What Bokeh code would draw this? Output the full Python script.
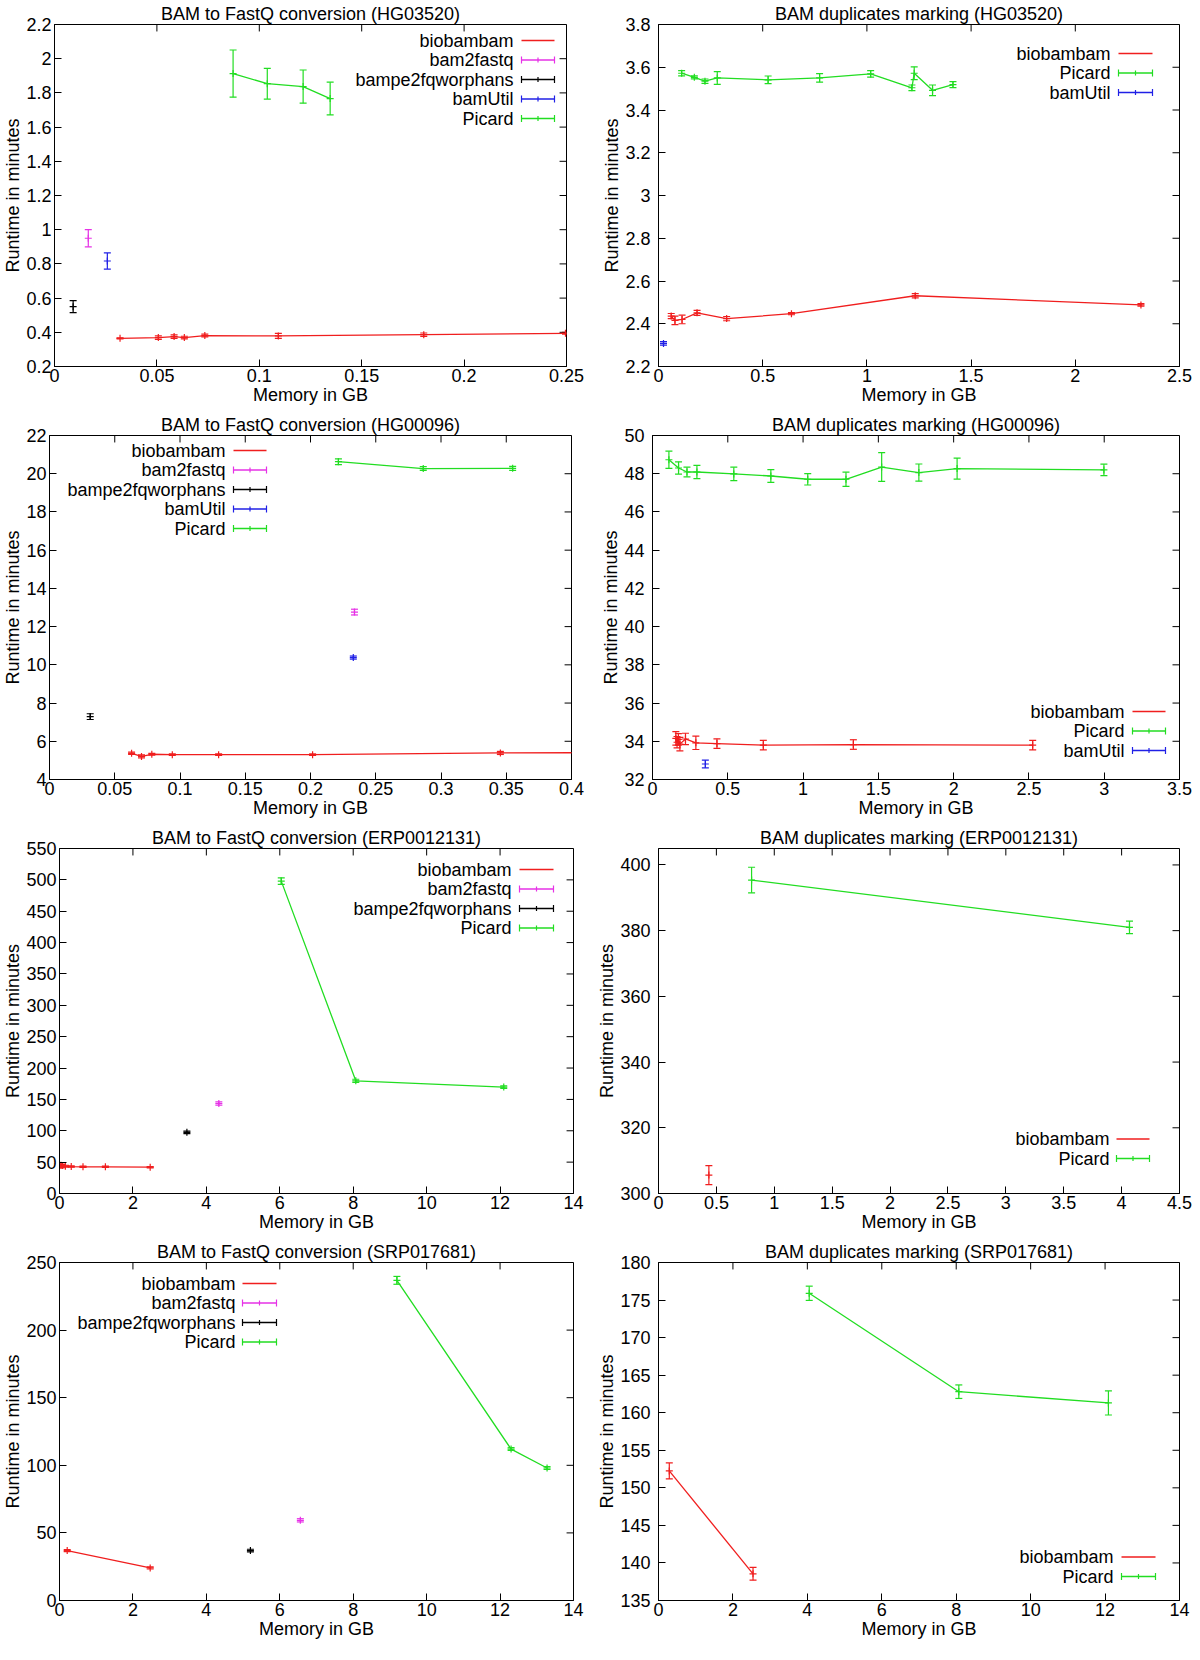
from bokeh.plotting import figure
from bokeh.models import Range1d, FixedTicker, Whisker, ColumnDataSource, TeeHead, Label, Arrow
from bokeh.layouts import column, row
from bokeh.embed import file_html
from bokeh.resources import INLINE

# ---------------- data ----------------
X_LABEL = "Memory in GB"
Y_LABEL = "Runtime in minutes"

# Panel 1: BAM to FastQ conversion (HG03520)
p1_title = "BAM to FastQ conversion (HG03520)"
p1_xticks = [0, 0.05, 0.1, 0.15, 0.2, 0.25]
p1_yticks = [0.2, 0.4, 0.6, 0.8, 1, 1.2, 1.4, 1.6, 1.8, 2, 2.2]
p1_bio_x = [0.032, 0.0507, 0.0584, 0.0634, 0.0734, 0.1093, 0.1803, 0.2495]
p1_bio_y = [0.365, 0.369, 0.375, 0.369, 0.381, 0.379, 0.386, 0.394]
p1_bio_e = [0.003, 0.01, 0.01, 0.008, 0.008, 0.015, 0.01, 0.005]
p1_b2f_x = [0.0165]
p1_b2f_y = [0.95]
p1_b2f_e = [0.05]
p1_bpe_x = [0.0091]
p1_bpe_y = [0.55]
p1_bpe_e = [0.035]
p1_bu_x = [0.0258]
p1_bu_y = [0.817]
p1_bu_e = [0.047]
p1_pic_x = [0.0872, 0.1039, 0.1214, 0.1346]
p1_pic_y = [1.913, 1.854, 1.837, 1.767]
p1_pic_e = [0.138, 0.09, 0.097, 0.096]

# Panel 2: BAM duplicates marking (HG03520)
p2_title = "BAM duplicates marking (HG03520)"
p2_xticks = [0, 0.5, 1, 1.5, 2, 2.5]
p2_yticks = [2.2, 2.4, 2.6, 2.8, 3, 3.2, 3.4, 3.6, 3.8]
p2_bio_x = [0.061, 0.079, 0.113, 0.185, 0.327, 0.638, 1.232, 2.315]
p2_bio_y = [2.436, 2.416, 2.42, 2.451, 2.424, 2.447, 2.531, 2.488]
p2_bio_e = [0.012, 0.02, 0.02, 0.012, 0.01, 0.005, 0.01, 0.006]
p2_pic_x = [0.111, 0.172, 0.223, 0.282, 0.526, 0.773, 1.018, 1.216, 1.227, 1.315, 1.413]
p2_pic_y = [3.572, 3.553, 3.535, 3.55, 3.541, 3.55, 3.569, 3.504, 3.572, 3.492, 3.519]
p2_pic_e = [0.012, 0.007, 0.01, 0.03, 0.018, 0.02, 0.015, 0.013, 0.03, 0.025, 0.014]
p2_bu_x = [0.024]
p2_bu_y = [2.308]
p2_bu_e = [0.008]

# Panel 3: BAM to FastQ conversion (HG00096)
p3_title = "BAM to FastQ conversion (HG00096)"
p3_xticks = [0, 0.05, 0.1, 0.15, 0.2, 0.25, 0.3, 0.35, 0.4]
p3_yticks = [4, 6, 8, 10, 12, 14, 16, 18, 20, 22]
p3_bio_x = [0.0629, 0.0705, 0.0784, 0.0941, 0.1296, 0.2016, 0.3455, 0.52]
p3_bio_y = [5.37, 5.21, 5.32, 5.30, 5.30, 5.30, 5.39, 5.42]
p3_bio_e = [0.06, 0.08, 0.05, 0.04, 0.04, 0.04, 0.08, 0.05]
p3_b2f_x = [0.2337]
p3_b2f_y = [12.76]
p3_b2f_e = [0.15]
p3_bpe_x = [0.0312]
p3_bpe_y = [7.29]
p3_bpe_e = [0.15]
p3_bu_x = [0.2328]
p3_bu_y = [10.38]
p3_bu_e = [0.08]
p3_pic_x = [0.2214, 0.2864, 0.3549]
p3_pic_y = [20.63, 20.27, 20.28]
p3_pic_e = [0.15, 0.1, 0.1]

# Panel 4: BAM duplicates marking (HG00096)
p4_title = "BAM duplicates marking (HG00096)"
p4_xticks = [0, 0.5, 1, 1.5, 2, 2.5, 3, 3.5]
p4_yticks = [32, 34, 36, 38, 40, 42, 44, 46, 48, 50]
p4_bio_x = [0.155, 0.163, 0.172, 0.182, 0.219, 0.288, 0.428, 0.736, 1.334, 2.525]
p4_bio_y = [34.15, 33.95, 34.1, 33.85, 34.12, 33.92, 33.88, 33.80, 33.83, 33.80]
p4_bio_e = [0.35, 0.3, 0.3, 0.35, 0.3, 0.35, 0.25, 0.25, 0.25, 0.25]
p4_pic_x = [0.109, 0.173, 0.229, 0.295, 0.54, 0.786, 1.031, 1.285, 1.522, 1.769, 2.023, 2.998]
p4_pic_y = [48.73, 48.30, 48.09, 48.09, 47.99, 47.88, 47.71, 47.71, 48.35, 48.06, 48.27, 48.20]
p4_pic_e = [0.45, 0.32, 0.25, 0.35, 0.35, 0.33, 0.3, 0.37, 0.75, 0.45, 0.55, 0.3]
p4_bu_x = [0.351]
p4_bu_y = [32.81]
p4_bu_e = [0.2]

# Panel 5: BAM to FastQ conversion (ERP0012131)
p5_title = "BAM to FastQ conversion (ERP0012131)"
p5_xticks = [0, 2, 4, 6, 8, 10, 12, 14]
p5_yticks = [0, 50, 100, 150, 200, 250, 300, 350, 400, 450, 500, 550]
p5_bio_x = [0.04, 0.08, 0.16, 0.32, 0.64, 1.25, 2.47]
p5_bio_y = [45.0, 44.5, 43.5, 43.0, 42.5, 42.5, 42.0]
p5_bio_e = [4.0, 2.0, 1.5, 1.0, 1.0, 1.0, 1.0]
p5_b2f_x = [4.34]
p5_b2f_y = [143.5]
p5_b2f_e = [2.5]
p5_bpe_x = [3.47]
p5_bpe_y = [97.5]
p5_bpe_e = [2.0]
p5_pic_x = [6.04, 8.07, 12.1]
p5_pic_y = [498.0, 179.6, 169.6]
p5_pic_e = [5.3, 2.5, 2.0]

# Panel 6: BAM duplicates marking (ERP0012131)
p6_title = "BAM duplicates marking (ERP0012131)"
p6_xticks = [0, 0.5, 1, 1.5, 2, 2.5, 3, 3.5, 4, 4.5]
p6_yticks = [300, 320, 340, 360, 380, 400]
p6_bio_x = [0.435]
p6_bio_y = [305.6]
p6_bio_e = [2.9]
p6_pic_x = [0.804, 4.068]
p6_pic_y = [395.4, 381.0]
p6_pic_e = [3.9, 1.9]

# Panel 7: BAM to FastQ conversion (SRP017681)
p7_title = "BAM to FastQ conversion (SRP017681)"
p7_xticks = [0, 2, 4, 6, 8, 10, 12, 14]
p7_yticks = [0, 50, 100, 150, 200, 250]
p7_bio_x = [0.21, 2.47]
p7_bio_y = [36.9, 24.1]
p7_bio_e = [0.8, 0.8]
p7_b2f_x = [6.56]
p7_b2f_y = [59.3]
p7_b2f_e = [1.2]
p7_bpe_x = [5.2]
p7_bpe_y = [36.9]
p7_bpe_e = [1.0]
p7_pic_x = [9.19, 12.3, 13.28]
p7_pic_y = [236.8, 112.0, 98.0]
p7_pic_e = [2.9, 1.0, 1.0]

# Panel 8: BAM duplicates marking (SRP017681)
p8_title = "BAM duplicates marking (SRP017681)"
p8_xticks = [0, 2, 4, 6, 8, 10, 12, 14]
p8_yticks = [135, 140, 145, 150, 155, 160, 165, 170, 175, 180]
p8_bio_x = [0.29, 2.54]
p8_bio_y = [152.25, 138.55]
p8_bio_e = [1.07, 0.85]
p8_pic_x = [4.05, 8.07, 12.09]
p8_pic_y = [175.9, 162.8, 161.3]
p8_pic_e = [0.95, 0.9, 1.6]

# ---------------- style ----------------
FONT = "Liberation Sans"
FS = "18px"
COL = {
    "biobambam": "#f01e1e",
    "bam2fastq": "#e632e6",
    "bampe2fqworphans": "#000000",
    "bamUtil": "#2020e6",
    "Picard": "#22dd22",
}


def fmt(t):
    return f"{t:g}"


def make_panel(title, xr, yr, xticks, yticks, series, legend, size, borders, ystandoff,
               leg_layout):
    W, H = size
    L, R, T, B = borders
    fw, fh = W - L - R, H - T - B
    p = figure(width=W, height=H, x_range=Range1d(*xr), y_range=Range1d(*yr),
               min_border_left=L, min_border_right=R, min_border_top=T, min_border_bottom=B,
               output_backend="svg", toolbar_location=None, title=title,
               x_axis_label=X_LABEL, y_axis_label=Y_LABEL)
    p.title.text_font = FONT
    p.title.text_font_size = FS
    p.title.text_font_style = "normal"
    p.title.align = "center"
    p.title.standoff = 2
    p.title.text_color = "black"
    p.xgrid.visible = False
    p.ygrid.visible = False
    p.outline_line_color = "black"
    p.outline_line_alpha = 1.0
    p.outline_line_width = 1
    for ax, ticks in ((p.xaxis[0], xticks), (p.yaxis[0], yticks)):
        ax.ticker = FixedTicker(ticks=ticks, minor_ticks=[])
        ax.major_label_overrides = {t: fmt(t) for t in ticks}
        ax.major_tick_in = 7
        ax.major_tick_out = 0
        ax.minor_tick_line_color = None
        ax.axis_line_color = "black"
        ax.major_tick_line_color = "black"
        ax.major_label_text_font = FONT
        ax.major_label_text_font_size = FS
        ax.major_label_text_color = "black"
        ax.axis_label_text_font = FONT
        ax.axis_label_text_font_size = FS
        ax.axis_label_text_font_style = "normal"
        ax.axis_label_text_color = "black"
        ax.axis_label_standoff = 0
    p.xaxis[0].major_label_standoff = 2
    p.yaxis[0].major_label_standoff = ystandoff

    # mirror ticks on top and right edges
    tx = 7 * (xr[1] - xr[0]) / fw
    ty = 7 * (yr[1] - yr[0]) / fh
    p.segment(x0=xticks, y0=[yr[1]] * len(xticks), x1=xticks, y1=[yr[1] - ty] * len(xticks),
              line_color="black", line_width=1)
    p.segment(x0=[xr[1]] * len(yticks), y0=yticks, x1=[xr[1] - tx] * len(yticks), y1=yticks,
              line_color="black", line_width=1)

    for name, xs, ys, es in series:
        c = COL[name]
        if len(xs) > 1:
            p.line(xs, ys, line_color=c, line_width=1.3)
        keep = [i for i in range(len(xs)) if xr[0] <= xs[i] <= xr[1]]
        src = ColumnDataSource(dict(
            x=[xs[i] for i in keep], y=[ys[i] for i in keep],
            lo=[ys[i] - es[i] for i in keep], hi=[ys[i] + es[i] for i in keep]))
        p.add_layout(Whisker(source=src, base="x", upper="hi", lower="lo", dimension="height",
                             line_color=c, line_width=1.2,
                             upper_head=TeeHead(size=7, line_color=c, line_width=1.2),
                             lower_head=TeeHead(size=7, line_color=c, line_width=1.2)))
        p.scatter("x", "y", source=src, marker="cross", size=7, line_color=c, line_width=1.2)

    anchor, tdx, s0, s1, first, step = leg_layout
    for i, name in enumerate(legend):
        c = COL[name]
        if anchor[0] == "t":
            y = fh - (first + i * step)
        else:
            y = first - i * step
        base = fw if anchor[1] == "r" else 0
        p.add_layout(Label(x=base + tdx, y=y, x_units="screen", y_units="screen", text=name,
                           text_align="right", text_baseline="middle", text_font=FONT,
                           text_font_size=FS, text_color="black"))
        if name == "biobambam":
            heads = dict(start=None, end=None)
        else:
            heads = dict(start=TeeHead(size=7, line_color=c, line_width=1.2),
                         end=TeeHead(size=7, line_color=c, line_width=1.2))
        p.add_layout(Arrow(x_start=base + s0, y_start=y, x_end=base + s1, y_end=y,
                           start_units="screen", end_units="screen",
                           line_color=c, line_width=1.3, **heads))
        if name != "biobambam":
            mid = base + (s0 + s1) / 2
            p.add_layout(Arrow(x_start=mid, y_start=y - 2.5, x_end=mid, y_end=y + 2.5,
                               start_units="screen", end_units="screen",
                               line_color=c, line_width=1.2, start=None, end=None))
    return p


LW, RW = 592, 600

p1 = make_panel(p1_title, (0, 0.25), (0.2, 2.2), p1_xticks, p1_yticks,
                [("biobambam", p1_bio_x, p1_bio_y, p1_bio_e),
                 ("bam2fastq", p1_b2f_x, p1_b2f_y, p1_b2f_e),
                 ("bampe2fqworphans", p1_bpe_x, p1_bpe_y, p1_bpe_e),
                 ("bamUtil", p1_bu_x, p1_bu_y, p1_bu_e),
                 ("Picard", p1_pic_x, p1_pic_y, p1_pic_e)],
                ["biobambam", "bam2fastq", "bampe2fqworphans", "bamUtil", "Picard"],
                (LW, 411), (49, 26, 22, 45), 3, ("tr", -58, -50, -17, 18, 19.5))
p2 = make_panel(p2_title, (0, 2.5), (2.2, 3.8), p2_xticks, p2_yticks,
                [("biobambam", p2_bio_x, p2_bio_y, p2_bio_e),
                 ("Picard", p2_pic_x, p2_pic_y, p2_pic_e),
                 ("bamUtil", p2_bu_x, p2_bu_y, p2_bu_e)],
                ["biobambam", "Picard", "bamUtil"],
                (RW, 411), (66, 13, 22, 45), 8, ("tr", -69, -61, -27, 31, 19.5))
p3 = make_panel(p3_title, (0, 0.4), (4, 22), p3_xticks, p3_yticks,
                [("biobambam", p3_bio_x, p3_bio_y, p3_bio_e),
                 ("bam2fastq", p3_b2f_x, p3_b2f_y, p3_b2f_e),
                 ("bampe2fqworphans", p3_bpe_x, p3_bpe_y, p3_bpe_e),
                 ("bamUtil", p3_bu_x, p3_bu_y, p3_bu_e),
                 ("Picard", p3_pic_x, p3_pic_y, p3_pic_e)],
                ["biobambam", "bam2fastq", "bampe2fqworphans", "bamUtil", "Picard"],
                (LW, 413), (43, 21, 22, 45), 3, ("tl", 176, 184, 217, 17, 19.5))
p4 = make_panel(p4_title, (0, 3.5), (32, 50), p4_xticks, p4_yticks,
                [("biobambam", p4_bio_x, p4_bio_y, p4_bio_e),
                 ("Picard", p4_pic_x, p4_pic_y, p4_pic_e),
                 ("bamUtil", p4_bu_x, p4_bu_y, p4_bu_e)],
                ["biobambam", "Picard", "bamUtil"],
                (RW, 413), (60, 13, 22, 45), 8, ("br", -55, -47, -14, 68, 19.5))
p5 = make_panel(p5_title, (0, 14), (0, 550), p5_xticks, p5_yticks,
                [("biobambam", p5_bio_x, p5_bio_y, p5_bio_e),
                 ("bam2fastq", p5_b2f_x, p5_b2f_y, p5_b2f_e),
                 ("bampe2fqworphans", p5_bpe_x, p5_bpe_y, p5_bpe_e),
                 ("Picard", p5_pic_x, p5_pic_y, p5_pic_e)],
                ["biobambam", "bam2fastq", "bampe2fqworphans", "Picard"],
                (LW, 414), (54, 19, 22, 45), 3, ("tr", -67, -59, -25, 23, 19.5))
p6 = make_panel(p6_title, (0, 4.5), (300, 405), p6_xticks, p6_yticks,
                [("biobambam", p6_bio_x, p6_bio_y, p6_bio_e),
                 ("Picard", p6_pic_x, p6_pic_y, p6_pic_e)],
                ["biobambam", "Picard"],
                (RW, 414), (66, 13, 22, 45), 8, ("br", -70, -63, -30, 54.5, 19.5))
p7 = make_panel(p7_title, (0, 14), (0, 250), p7_xticks, p7_yticks,
                [("biobambam", p7_bio_x, p7_bio_y, p7_bio_e),
                 ("bam2fastq", p7_b2f_x, p7_b2f_y, p7_b2f_e),
                 ("bampe2fqworphans", p7_bpe_x, p7_bpe_y, p7_bpe_e),
                 ("Picard", p7_pic_x, p7_pic_y, p7_pic_e)],
                ["biobambam", "bam2fastq", "bampe2fqworphans", "Picard"],
                (LW, 406), (54, 19, 22, 44), 3, ("tl", 176, 183, 217, 23, 19.5))
p8 = make_panel(p8_title, (0, 14), (135, 180), p8_xticks, p8_yticks,
                [("biobambam", p8_bio_x, p8_bio_y, p8_bio_e),
                 ("Picard", p8_pic_x, p8_pic_y, p8_pic_e)],
                ["biobambam", "Picard"],
                (RW, 406), (66, 13, 22, 44), 8, ("br", -66, -58, -24, 43.5, 19.5))

layout = column(row(p1, p2), row(p3, p4), row(p5, p6), row(p7, p8))
open("out.html", "w").write(file_html(layout, INLINE, title="Runtime vs memory"))
